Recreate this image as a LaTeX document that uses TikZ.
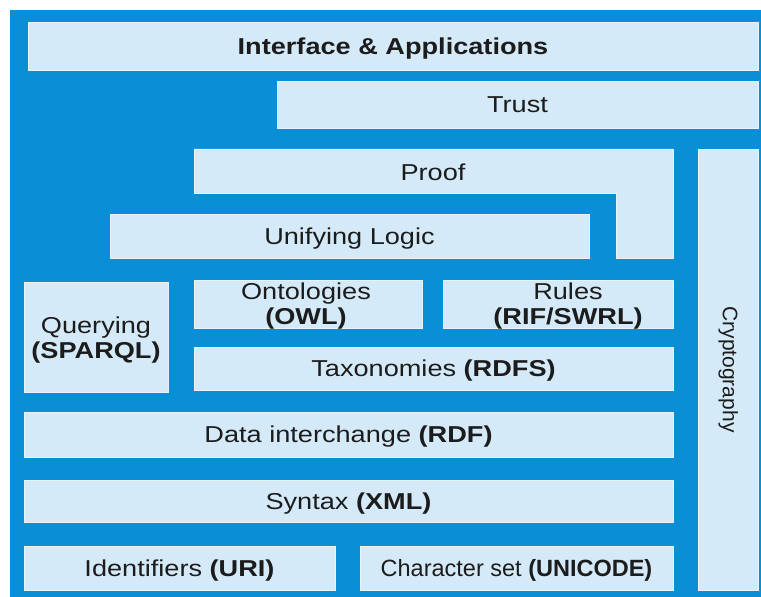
\documentclass[tikz,border=0pt]{standalone}
\usepackage{fontspec}
\setmainfont[FakeStretch=1.18]{Liberation Sans}
\newfontfamily\narrowfont{Liberation Sans}
\definecolor{layerblue}{HTML}{0A8ED6}
\definecolor{boxfill}{HTML}{D5EAF8}
\definecolor{boxedge}{HTML}{E8F4FC}
\definecolor{ink}{HTML}{1C1C1C}
\tikzset{
  layer/.style={fill=boxfill, draw=boxedge, line width=0.8bp, inner sep=0pt,
    text=ink, align=center, text height=17bp, text depth=0.6bp,
    font=\fontsize{23bp}{26bp}\selectfont},
  plainlayer/.style={fill=boxfill, draw=boxedge, line width=0.8bp, inner sep=0pt},
  label/.style={inner sep=0pt, text=ink, align=center,
    font=\fontsize{23bp}{25bp}\selectfont}
}
\begin{document}
\begin{tikzpicture}[x=1bp, y=-1bp]
  \useasboundingbox (0,0) rectangle (761,597);
  \fill[white] (0,0) rectangle (761,597);
  \fill[layerblue] (10,10) rectangle (761,597);

  % top layers
  \node[layer, minimum width=730bp, minimum height=48bp] (iface) at (393,46)
    {\textbf{Interface \& Applications}};
  \node[layer, minimum width=481bp, minimum height=47bp] (trust) at (517.5,104.5)
    {Trust};

  % proof layer wraps round unifying logic
  \filldraw[fill=boxfill, draw=boxedge, line width=0.8bp]
    (194,149) -- (673,149) -- (673,258) -- (616,258) -- (616,193) -- (194,193) -- cycle;
  \node[label, text height=17bp, text depth=0.6bp] (proof) at (433,172) {Proof};

  \node[layer, minimum width=479bp, minimum height=44bp] (logic) at (349.5,236)
    {Unifying Logic};

  % vertical security column
  \node[layer, rotate=-90, minimum width=441bp, minimum height=60bp,
    text height=15bp, text depth=4.5bp,
    font=\fontsize{21bp}{24bp}\narrowfont] (crypto) at (728,369.5) {Cryptography};

  % semantic layers
  \node[plainlayer, minimum width=144bp, minimum height=110bp] (query) at (96,337) {};
  \node[label] (querytext) at (96,340) {Querying\\\textbf{(SPARQL)}};
  \node[plainlayer, minimum width=228bp, minimum height=48bp] (onto) at (308,304) {};
  \node[label] (ontotext) at (306,306.5) {Ontologies\\\textbf{(OWL)}};
  \node[plainlayer, minimum width=230bp, minimum height=48bp] (rules) at (558,304) {};
  \node[label] (rulestext) at (568,306.5) {Rules\\\textbf{(RIF/SWRL)}};
  \node[layer, minimum width=479bp, minimum height=43bp] (taxo) at (433.5,368.5)
    {Taxonomies \textbf{(RDFS)}};
  \node[layer, minimum width=649bp, minimum height=45bp] (rdf) at (348.5,434.5)
    {Data interchange \textbf{(RDF)}};
  \node[layer, minimum width=649bp, minimum height=42bp] (xml) at (348.5,501)
    {Syntax \textbf{(XML)}};

  % base layers
  \node[layer, minimum width=311bp, minimum height=44bp] (uri) at (179.5,568)
    {Identifiers \textbf{(URI)}};
  \node[layer, minimum width=313bp, minimum height=44bp,
    font=\fontsize{23.5bp}{26bp}\narrowfont] (unicode) at (516.5,568)
    {Character set \textbf{(UNICODE)}};
\end{tikzpicture}
\end{document}
